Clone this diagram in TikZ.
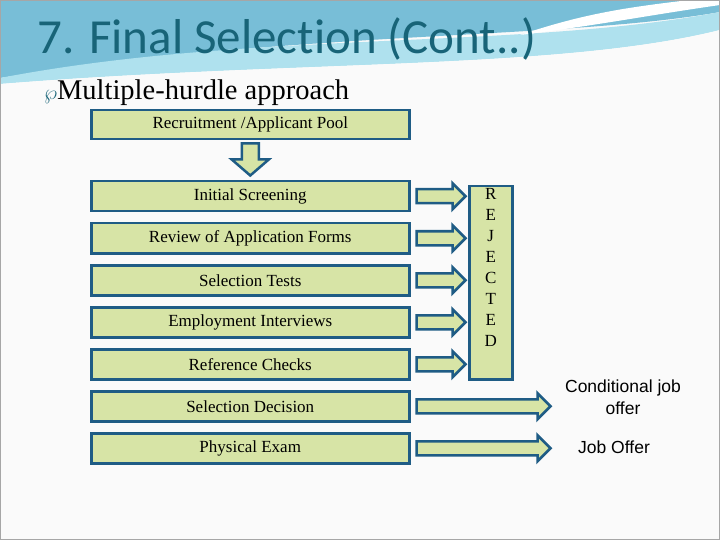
\documentclass[tikz,border=0pt]{standalone}
\usepackage{fontspec}
\setmainfont{Liberation Serif}
\newfontfamily\titlefont{Carlito}[Ligatures={NoCommon}]
\newfontfamily\arialfont{Liberation Sans}
\usetikzlibrary{calc}
\definecolor{boxfill}{RGB}{215,228,166}
\definecolor{boxline}{RGB}{31,92,133}
\definecolor{titlec}{RGB}{24,100,120}
\definecolor{sky}{RGB}{120,190,215}
\definecolor{skyl}{RGB}{175,225,238}
\begin{document}
\begin{tikzpicture}[x=1pt,y=-1pt,
  box/.style={draw=boxline,line width=2.5pt,fill=boxfill,font=\fontsize{17}{19}\selectfont},
  arr/.style={draw=boxline,line width=2.5pt,fill=boxfill,line join=miter},
  lbl/.style={font=\arialfont\fontsize{17.5}{22}\selectfont,align=center}]
\useasboundingbox (0,0) rectangle (720,540);
\fill[white!96!gray] (0,0) rectangle (720,540);
% swoosh
\fill[sky] (0,0) -- (720,0) -- (720,12) .. controls (560,40) and (300,30) .. (0,78) -- cycle;
\fill[skyl] (0,78) .. controls (250,30) and (520,50) .. (720,12) -- (720,30) .. controls (560,70) and (300,60) .. (0,84) -- cycle;
\fill[white] (690,0) .. controls (620,8) and (580,15) .. (520,35) .. controls (600,25) and (650,15) .. (720,5) -- (720,0) -- cycle;
\fill[white!96!gray] (0,84) .. controls (300,60) and (560,70) .. (720,30) -- (720,540) -- (0,540) -- cycle;
\draw[gray!70,line width=1pt] (0.5,0.5) rectangle (719.5,539.5);
\node[anchor=base west,text=titlec,font=\titlefont\fontsize{49}{52}\selectfont,inner sep=0] (title) at (37,54) {7. Final Selection (Cont..)};
\node[anchor=base west,font=\fontsize{28.5}{32}\selectfont,inner sep=0] (sub) at (44,100) {{\color{titlec}\fontsize{20}{20}\selectfont$\wp$}Multiple-hurdle approach};
% boxes
\node[box,minimum width=318,minimum height=29,anchor=north west] (pool) at (90,109) {Recruitment /Applicant Pool};
\foreach \n/\t/\y in {s1/Initial Screening/180, s2/Review of  Application Forms/222, s3/Selection Tests/264, s4/Employment Interviews/306, s5/Reference Checks/348, s6/Selection Decision/390, s7/Physical Exam/432}
  \node[box,minimum width=318,minimum height=30,anchor=north west] (\n) at (90,\y) {\t};
\node[box,minimum width=43,minimum height=193,anchor=north west,inner sep=0] (rej) at (468,185) {};
\node[anchor=north,align=center,font=\fontsize{17}{21}\selectfont,inner sep=0] (rejt) at ([yshift=-3pt]rej.north) {R\\E\\J\\E\\C\\T\\E\\D};
% down arrow
\coordinate (d0) at ([yshift=-3pt]pool.south);
\draw[arr] ($(d0)+(-8.5,0)$) -- ++(0,16) -- ++(-10,0) -- ++(18.5,16) -- ++(18.5,-16) -- ++(-10,0) -- ++(0,-16) -- cycle;
% right arrows
\foreach \n/\L in {s1/49,s2/49,s3/49,s4/49,s5/49,s6/134,s7/134}{
  \coordinate (a\n) at ([xshift=6pt]\n.east);
  \draw[arr] ($(a\n)+(0,-7)$) -- ++(\L-13,0) -- ++(0,-6) -- ++(13,13) -- ++(-13,13) -- ++(0,-6) -- ++(13-\L,0) -- cycle;
}
\node[lbl] (cjo) at (623,397) {Conditional job\\offer};
\node[lbl] (jo) at (614,447) {Job Offer};
\end{tikzpicture}
\end{document}
